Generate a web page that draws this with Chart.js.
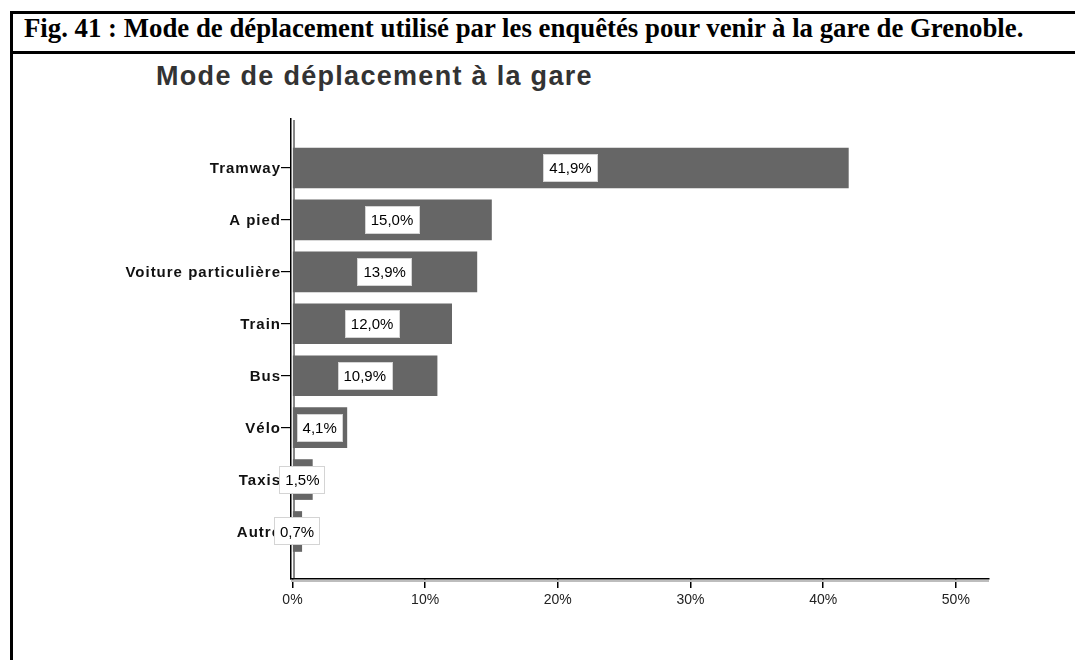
<!DOCTYPE html>
<html lang="fr">
<head>
<meta charset="utf-8">
<title>Mode de déplacement à la gare</title>
<script src="https://cdn.jsdelivr.net/npm/chart.js@4.4.1/dist/chart.umd.min.js"></script>
<style>
  html, body { margin: 0; padding: 0; background: #fff; }
  body { width: 1075px; height: 660px; position: relative; overflow: hidden; }
  #chart { position: absolute; left: 0; top: 0; }
  .rule-h { position: absolute; left: 10px; right: 0; height: 3px; background: #000; }
  .rule-v { position: absolute; left: 10px; top: 11px; bottom: 0; width: 3px; background: #000; }
  #caption {
    position: absolute; left: 24px; top: 15px; white-space: nowrap;
    font: bold 26.8px/26px "Liberation Serif", "Times New Roman", serif; color: #000;
  }
  #title {
    position: absolute; left: 156px; top: 63px; white-space: nowrap;
    font: bold 27px/27px "Liberation Sans", Arial, sans-serif; letter-spacing: 1.3px; color: #333;
  }
</style>
</head>
<body>
<div class="rule-h" style="top:11px"></div>
<div class="rule-h" style="top:51px"></div>
<div class="rule-v"></div>
<div id="caption">Fig. 41 : Mode de déplacement utilisé par les enquêtés pour venir à la gare de Grenoble.</div>
<div id="title">Mode de déplacement à la gare</div>
<canvas id="chart" width="1075" height="660"></canvas>
<script>
// Modes of travel to the station, share of respondents (%)
const categories = ['Tramway', 'A pied', 'Voiture particulière', 'Train', 'Bus', 'Vélo', 'Taxis', 'Autre'];
const shares = [41.9, 15.0, 13.9, 12.0, 10.9, 4.1, 1.5, 0.7];
const xTickValues = [0, 10, 20, 30, 40, 50];

const fmtPct = v => v.toFixed(1).replace('.', ',') + '%';

// Category names (bold, letter-spaced) and boxed value labels on top of the bars
const labelPlugin = {
  id: 'labels',
  beforeDatasetsDraw(chart) {
    const { ctx, chartArea: a } = chart;
    ctx.save();
    ctx.strokeStyle = '#111';
    ctx.lineWidth = 1;
    ctx.beginPath();
    ctx.moveTo(a.left + 3, a.top + 1);
    ctx.lineTo(a.left + 3, a.bottom);
    ctx.stroke();
    ctx.strokeStyle = '#bdbdbd';
    ctx.lineWidth = 2;
    ctx.beginPath();
    ctx.moveTo(a.left, a.bottom + 2);
    ctx.lineTo(a.right, a.bottom + 2);
    ctx.stroke();
    ctx.restore();
  },
  afterDatasetsDraw(chart) {
    const { ctx } = chart;
    const xs = chart.scales.x, ys = chart.scales.y;
    ctx.save();
    // category names
    ctx.font = 'bold 15px "Liberation Sans", Arial, sans-serif';
    ctx.fillStyle = '#111';
    ctx.textAlign = 'right';
    ctx.textBaseline = 'middle';
    ctx.letterSpacing = '1px';
    categories.forEach((c, i) => {
      ctx.fillText(c, ys.left + ys.width - 10, ys.getPixelForValue(i) + 1);
    });
    ctx.letterSpacing = '0px';
    // value boxes
    ctx.font = '15px "Liberation Sans", Arial, sans-serif';
    ctx.textAlign = 'center';
    shares.forEach((v, i) => {
      const x0 = xs.getPixelForValue(0), x1 = xs.getPixelForValue(v);
      const cx = (x0 + x1) / 2, cy = ys.getPixelForValue(i);
      const t = fmtPct(v);
      const w = ctx.measureText(t).width + 12, h = 28;
      ctx.fillStyle = '#fff';
      ctx.fillRect(Math.round(cx - w / 2), Math.round(cy - h / 2), Math.round(w), h);
      ctx.strokeStyle = '#d4d4d4';
      ctx.lineWidth = 1;
      ctx.strokeRect(Math.round(cx - w / 2) + 0.5, Math.round(cy - h / 2) + 0.5, Math.round(w) - 1, h - 1);
      ctx.fillStyle = '#000';
      ctx.fillText(t, cx, cy + 1);
    });
    ctx.restore();
  }
};

new Chart(document.getElementById('chart'), {
  type: 'bar',
  data: {
    datasets: [{
      data: shares.map((v, i) => ({ x: v, y: i })),
      backgroundColor: '#666666',
      borderWidth: 0,
      barThickness: 40
    }]
  },
  options: {
    indexAxis: 'y',
    responsive: false,
    devicePixelRatio: 1,
    animation: false,
    layout: { padding: { left: 0, top: 119, right: 86, bottom: 41 } },
    plugins: { legend: { display: false }, tooltip: { enabled: false }, title: { display: false } },
    scales: {
      x: {
        type: 'linear',
        min: -0.11,
        max: 52.5,
        afterBuildTicks: s => { s.ticks = xTickValues.map(v => ({ value: v })); },
        afterFit: s => { s.height = 40; },
        grid: { display: true, drawOnChartArea: false, drawTicks: true, tickLength: 9, color: '#000', lineWidth: 1.5 },
        border: { display: true, color: '#000', width: 1.5 },
        ticks: {
          padding: 4,
          color: '#222',
          font: { family: '"Liberation Sans", Arial, sans-serif', size: 14 },
          callback: v => v + '%',
          maxRotation: 0
        }
      },
      y: {
        type: 'linear',
        reverse: true,
        offset: false,
        min: -0.944,
        max: 7.915,
        afterBuildTicks: s => { s.ticks = categories.map((_, i) => ({ value: i })); },
        afterFit: s => { s.width = 291; },
        grid: { display: true, offset: false, drawOnChartArea: false, drawTicks: true, tickLength: 10, color: '#000', lineWidth: 1.2 },
        border: { display: true, color: '#000', width: 1.5 },
        ticks: { display: false }
      }
    }
  },
  plugins: [labelPlugin]
});
</script>
</body>
</html>
